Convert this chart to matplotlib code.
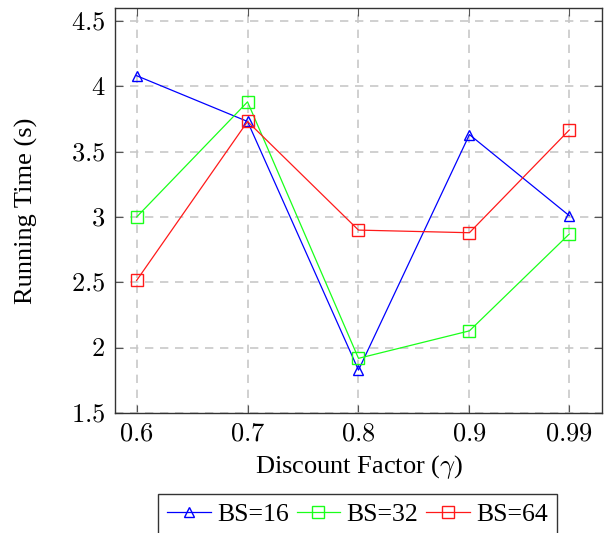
import matplotlib
matplotlib.use("Agg")
import matplotlib.pyplot as plt

gammas = [0.6, 0.7, 0.8, 0.9, 0.99]
bs16 = [4.08, 3.73, 1.83, 3.63, 3.01]
bs32 = [3.00, 3.88, 1.92, 2.13, 2.87]
bs64 = [2.515, 3.73, 2.90, 2.88, 3.665]
yticks = [1.5, 2, 2.5, 3, 3.5, 4, 4.5]

plt.rcParams['font.family'] = ['Liberation Serif', 'DejaVu Serif']
plt.rcParams['mathtext.fontset'] = 'cm'

fig = plt.figure(figsize=(6.09, 5.33), dpi=100)
ax = fig.add_axes([0.1888, 0.2246, 0.7997, 0.7598])

lw = 0.9
ax.plot(gammas, bs16, color=(0, 0, 1), lw=lw, marker='^', ms=7, mfc='none', mew=1.0, label='BS=16', zorder=3)
ax.plot(gammas, bs32, color=(0.1, 1, 0.1), lw=lw, marker='s', ms=9, mfc='none', mew=1.0, label='BS=32', zorder=3)
ax.plot(gammas, bs64, color=(1, 0.1, 0.1), lw=lw, marker='s', ms=9, mfc='none', mew=1.0, label='BS=64', zorder=3)

ax.set_xlim(0.5805, 1.0195)
ax.set_ylim(1.5, 4.595)
ax.set_xticks(gammas)
ax.set_xticklabels([f'${g}$' for g in gammas])
ax.set_yticks(yticks)
ax.set_yticklabels([f'${y:g}$' for y in yticks])
ax.tick_params(direction='in', length=6, width=0.8, top=True, right=True, labelsize=19, color='#555555', pad=7)
ax.grid(True, color='#c8c8c8', ls=(0, (5, 4)), lw=1.2)
ax.set_axisbelow(True)
for s in ax.spines.values():
    s.set_linewidth(1.0)
    s.set_color('#333333')

ax.set_xlabel(r'Discount Factor ($\gamma$)', fontsize=19, labelpad=6)
ax.set_ylabel('Running Time (s)', fontsize=19, labelpad=24)

leg = fig.legend(loc='upper center', bbox_to_anchor=(0.587, 0.0732), ncol=3, fontsize=18.5,
                 frameon=True, fancybox=False, edgecolor='black', handlelength=1.7,
                 handletextpad=0.25, columnspacing=0.3, borderpad=0.35, borderaxespad=0)
leg.get_frame().set_linewidth(1.0)

fig.savefig('out.png', dpi=100)
